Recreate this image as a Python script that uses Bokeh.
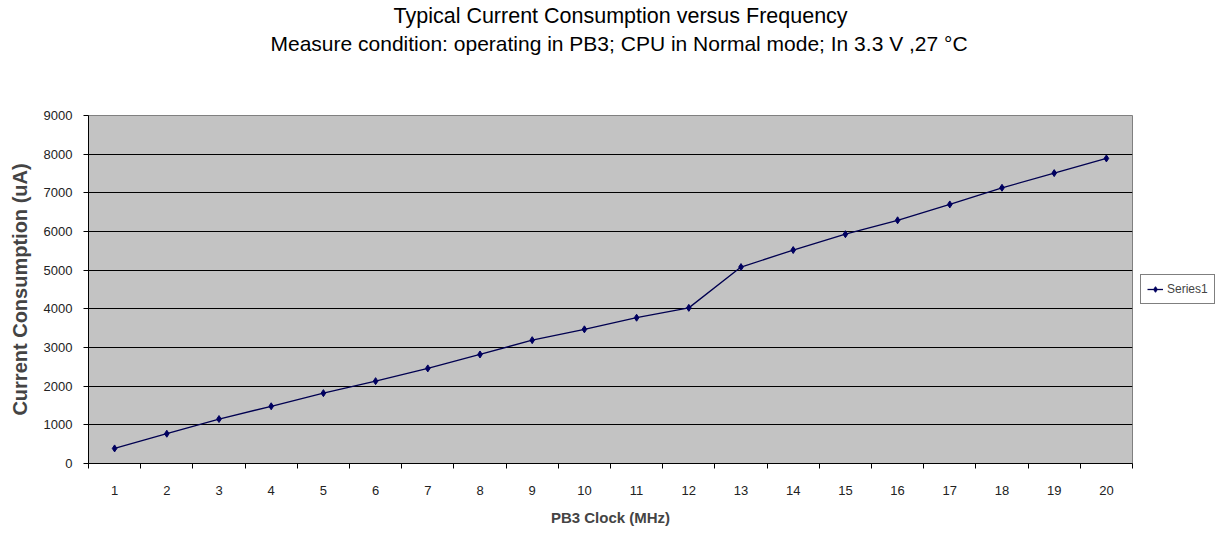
from bokeh.plotting import figure
from bokeh.models import (Title, FixedTicker, Legend, LegendItem, Range1d)
from bokeh.embed import file_html
from bokeh.resources import INLINE

clock_mhz = list(range(1, 21))
tick_labels = [str(c) for c in clock_mhz]
current_ua = [390, 770, 1150, 1480, 1820, 2130, 2460, 2820, 3190, 3470,
              3770, 4025, 5080, 5520, 5930, 6290, 6700, 7130, 7510, 7890]
y_ticks = list(range(0, 9001, 1000))

FONT = "Liberation Sans"

p = figure(frame_width=1044, frame_height=348, output_backend="svg", toolbar_location=None,
           x_range=Range1d(0.5, 20.5), y_range=Range1d(0, 9000),
           min_border_left=88, min_border_right=83, min_border_bottom=62,
           min_border_top=0)
p.background_fill_color = "#c3c3c3"
p.border_fill_color = "white"
p.outline_line_color = "#808080"
p.outline_line_width = 1

# titles (added from the frame outward)
p.add_layout(Title(text=" ", text_font_size="30px", text_font=FONT, standoff=25), "above")
p.add_layout(Title(text="Measure condition: operating in PB3; CPU in Normal mode; In 3.3 V ,27 °C",
                   text_font_size="21px", text_font=FONT, text_font_style="normal",
                   align="left", text_color="black", standoff=2, offset=182), "above")
p.add_layout(Title(text="Typical Current Consumption versus Frequency",
                   text_font_size="21.5px", text_font=FONT, text_font_style="normal",
                   align="left", text_color="black", standoff=2, offset=305), "above")

# x axis
xa = p.xaxis[0]
xa.ticker = FixedTicker(ticks=clock_mhz, minor_ticks=[c + 0.5 for c in [0] + clock_mhz])
xa.major_label_overrides = {c: l for c, l in zip(clock_mhz, tick_labels)}
xa.major_tick_out = 0
xa.major_tick_in = 0
xa.minor_tick_out = 5
xa.minor_tick_in = 0
xa.minor_tick_line_color = "black"
xa.axis_line_color = "black"
xa.major_label_standoff = 17
xa.major_label_text_font = FONT
xa.major_label_text_font_size = "13px"
xa.major_label_text_color = "#222222"
xa.axis_label = "PB3 Clock (MHz)"
xa.axis_label_text_font = FONT
xa.axis_label_text_font_style = "bold"
xa.axis_label_text_font_size = "15px"
xa.axis_label_standoff = 11

# y axis
ya = p.yaxis[0]
ya.ticker = FixedTicker(ticks=y_ticks)
ya.major_tick_out = 5
ya.major_tick_in = 0
ya.minor_tick_out = 0
ya.minor_tick_in = 0
ya.axis_line_color = "black"
ya.major_label_standoff = 11
ya.major_label_text_font = FONT
ya.major_label_text_font_size = "13px"
ya.major_label_text_color = "#222222"
ya.axis_label = "Current Consumption (uA)"
ya.axis_label_text_font = FONT
ya.axis_label_text_font_style = "bold"
ya.axis_label_text_font_size = "20px"
ya.axis_label_standoff = 10

p.xgrid.grid_line_color = None
p.ygrid.grid_line_color = "black"
p.ygrid.grid_line_width = 1.2
p.ygrid.ticker = FixedTicker(ticks=y_ticks)

line = p.line(clock_mhz, current_ua, line_color="#000050", line_width=1.3)
pts = p.scatter(clock_mhz, current_ua, marker="diamond", size=7,
                fill_color="#000060", line_color="#000060")

legend = Legend(items=[LegendItem(label="Series1", renderers=[line, pts])],
                location="center_left", orientation="vertical",
                border_line_color="black", border_line_width=1,
                background_fill_color="white", background_fill_alpha=1,
                label_text_font=FONT, label_text_font_size="12px",
                glyph_width=16, glyph_height=14, label_standoff=4,
                padding=6, margin=8, spacing=0, label_height=16)
p.add_layout(legend, "right")

open("out.html", "w").write(file_html(p, INLINE))
